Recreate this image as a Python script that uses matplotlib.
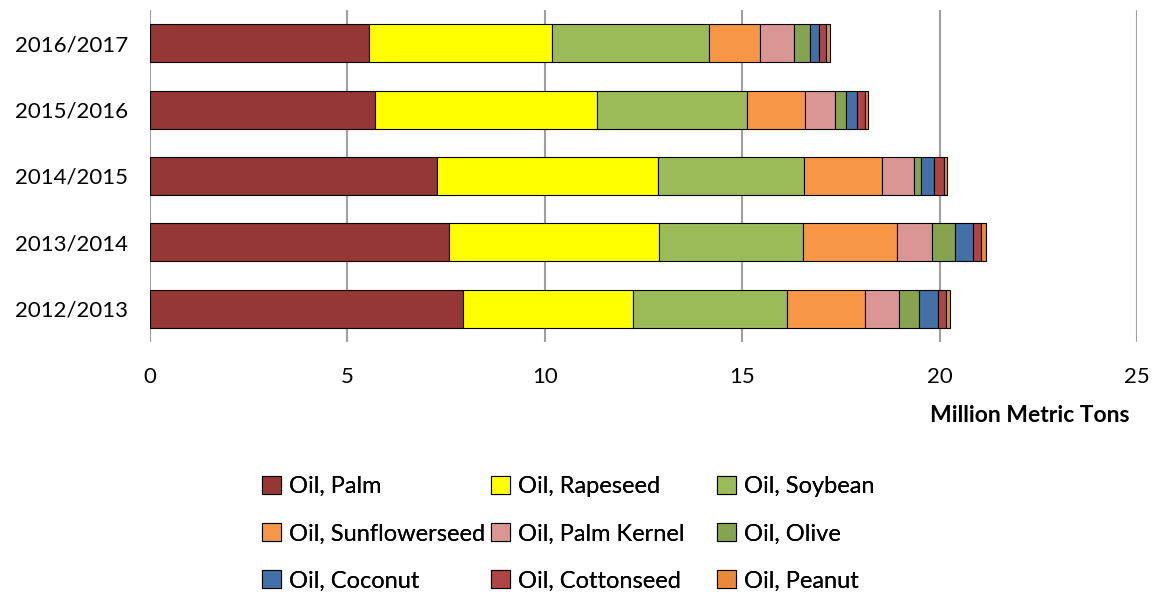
import numpy as np
import matplotlib
matplotlib.use('Agg')
import matplotlib.pyplot as plt

plt.rcParams['font.family'] = ['Lato', 'DejaVu Sans']

# Data (million metric tons)
years = ['2012/2013', '2013/2014', '2014/2015', '2015/2016', '2016/2017']
oils = ['Oil, Palm', 'Oil, Rapeseed', 'Oil, Soybean', 'Oil, Sunflowerseed',
        'Oil, Palm Kernel', 'Oil, Olive', 'Oil, Coconut', 'Oil, Cottonseed', 'Oil, Peanut']
palm = [7.93, 7.58, 7.27, 5.70, 5.55]
rapeseed = [4.31, 5.30, 5.60, 5.63, 4.64]
soybean = [3.90, 3.65, 3.70, 3.80, 3.98]
sunflower = [1.98, 2.38, 1.98, 1.47, 1.27]
palm_kernel = [0.86, 0.91, 0.81, 0.74, 0.86]
olive = [0.51, 0.56, 0.18, 0.30, 0.41]
coconut = [0.48, 0.46, 0.33, 0.28, 0.23]
cottonseed = [0.20, 0.20, 0.23, 0.18, 0.18]
peanut = [0.10, 0.13, 0.08, 0.08, 0.10]

series = [palm, rapeseed, soybean, sunflower, palm_kernel, olive, coconut, cottonseed, peanut]
colors = ['#953735', '#FFFF00', '#9BBB59', '#F79646', '#D99694',
          '#86A34F', '#4470A8', '#AE4444', '#E88A3A']

fig = plt.figure(figsize=(11.57, 5.92), dpi=100)
ax = fig.add_axes([150/1157, 1-342/592, (1137-150)/1157, 332/592])

y = np.arange(len(years))
left = np.zeros(len(years))
bars = []
for vals, c, name in zip(series, colors, oils):
    b = ax.barh(y, vals, left=left, height=0.57, color=c, edgecolor='black',
                linewidth=0.8, label=name, zorder=3)
    bars.append(b)
    left = left + np.array(vals)

ax.set_xlim(0, 25)
ax.set_ylim(-0.5, 4.5)
ax.set_xticks([0, 5, 10, 15, 20, 25])
ax.set_yticks(y)
ax.set_yticklabels(years, fontsize=16)
ax.tick_params(axis='x', labelsize=16, length=0, pad=18)
ax.tick_params(axis='y', length=0, pad=16)
ax.grid(axis='x', color='#A0A0A0', linewidth=1.5, zorder=0)
for s in ax.spines.values():
    s.set_visible(False)

fig.text(1130/1157, 1-415/592, 'Million Metric Tons', ha='right', va='center',
         fontsize=16.5, fontweight='bold')

# legend: three columns placed like the original grid, filled row by row
col_x = [262, 491, 717]
for j in range(3):
    idx = [j, j + 3, j + 6]
    leg = fig.legend([bars[i] for i in idx], [oils[i] for i in idx],
                     loc='upper left', bbox_to_anchor=(col_x[j]/1157, 1-476/592),
                     frameon=False, fontsize=17, handlelength=0.8, handleheight=0.8,
                     handletextpad=0.35, labelspacing=1.1, borderpad=0, borderaxespad=0)
    fig.add_artist(leg)

fig.savefig('out.png', dpi=100)
